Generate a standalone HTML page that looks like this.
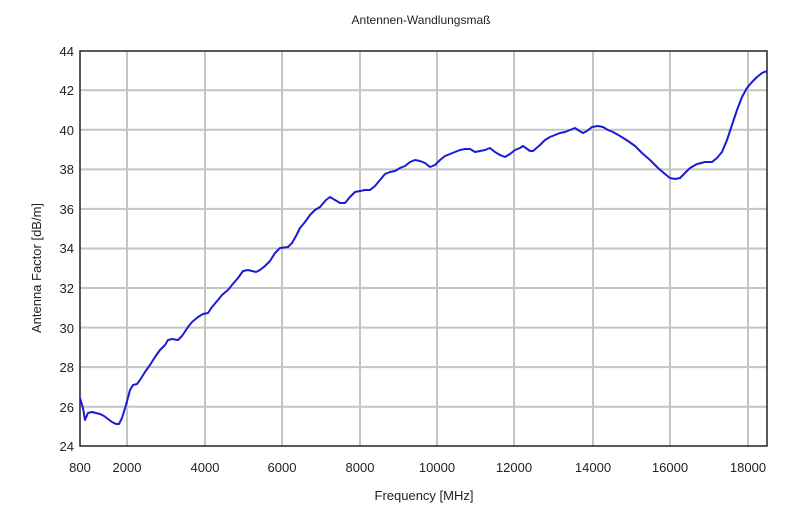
<!DOCTYPE html>
<html><head><meta charset="utf-8"><style>
body{margin:0;background:#fff;}
svg{display:block;font-family:"Liberation Sans",Arial,sans-serif;}
</style></head><body>
<svg width="800" height="532" viewBox="0 0 800 532">
<rect width="800" height="532" fill="#fff"/>
<text x="421" y="24" font-size="12" text-anchor="middle" fill="#222">Antennen-Wandlungsmaß</text>
<g stroke="#c4c4c4" stroke-width="2">
<line x1="80" y1="90.3" x2="767" y2="90.3"/><line x1="80" y1="129.8" x2="767" y2="129.8"/>
<line x1="80" y1="169.4" x2="767" y2="169.4"/><line x1="80" y1="208.9" x2="767" y2="208.9"/>
<line x1="80" y1="248.5" x2="767" y2="248.5"/><line x1="80" y1="288" x2="767" y2="288"/>
<line x1="80" y1="327.6" x2="767" y2="327.6"/><line x1="80" y1="367.1" x2="767" y2="367.1"/>
<line x1="80" y1="406.7" x2="767" y2="406.7"/>
<line x1="127" y1="51" x2="127" y2="446"/><line x1="205" y1="51" x2="205" y2="446"/>
<line x1="282" y1="51" x2="282" y2="446"/><line x1="360" y1="51" x2="360" y2="446"/>
<line x1="437" y1="51" x2="437" y2="446"/><line x1="514" y1="51" x2="514" y2="446"/>
<line x1="593" y1="51" x2="593" y2="446"/><line x1="670" y1="51" x2="670" y2="446"/>
<line x1="748" y1="51" x2="748" y2="446"/>
</g>
<rect x="80" y="51" width="687" height="395" fill="none" stroke="#222" stroke-width="1.5"/>
<polyline fill="none" stroke="#1a1ad8" stroke-width="2" stroke-linejoin="round" points="80,398 83,408 85,420 88,413 92,412 96,413 100,414 104,416 108,419 112,422 116,424 119,424 122,418 126,405 130,390 133,385 137,384 140,380 145,372 150,365 155,357 160,350 165,345 168,340 172,339 178,340 182,336 188,327 192,322 198,317 203,314 208,313 212,307 218,300 222,295 228,290 232,285 238,278 243,271 248,270 252,271 256,272 260,270 265,266 270,261 275,253 280,248 288,247 292,243 296,236 300,228 305,222 310,215 315,210 320,207 326,200 330,197 335,200 340,203 345,203 350,197 355,192 360,191 365,190 370,190 375,186 380,180 385,174 390,172 395,171 400,168 405,166 410,162 415,160 420,161 425,163 430,167 435,165 440,160 445,156 450,154 455,152 460,150 465,149 470,149 475,152 480,151 485,150 490,148 495,152 500,155 505,157 510,154 515,150 520,148 523,146 530,151 533,151 540,145 545,140 550,137 555,135 560,133 565,132 570,130 575,128 578,130 583,133 587,131 592,127 598,126 603,127 608,130 613,132 620,136 628,141 635,146 642,153 650,160 658,168 665,174 670,178 675,179 680,178 685,173 690,168 697,164 705,162 712,162 717,158 722,152 727,140 732,125 737,110 742,97 747,88 752,82 757,77 762,73 767,71"/>
<g font-size="13" fill="#222" text-anchor="end">
<text x="74" y="56">44</text><text x="74" y="95">42</text><text x="74" y="135">40</text>
<text x="74" y="174">38</text><text x="74" y="214">36</text><text x="74" y="253">34</text>
<text x="74" y="293">32</text><text x="74" y="333">30</text><text x="74" y="372">28</text>
<text x="74" y="412">26</text><text x="74" y="451">24</text>
</g>
<g font-size="13" fill="#222" text-anchor="middle">
<text x="80" y="472">800</text><text x="127" y="472">2000</text><text x="205" y="472">4000</text>
<text x="282" y="472">6000</text><text x="360" y="472">8000</text><text x="437" y="472">10000</text>
<text x="514" y="472">12000</text><text x="593" y="472">14000</text><text x="670" y="472">16000</text>
<text x="748" y="472">18000</text>
<text x="424" y="500">Frequency [MHz]</text>
<text transform="translate(41,268) rotate(-90)">Antenna Factor [dB/m]</text>
</g>
</svg>
</body></html>
